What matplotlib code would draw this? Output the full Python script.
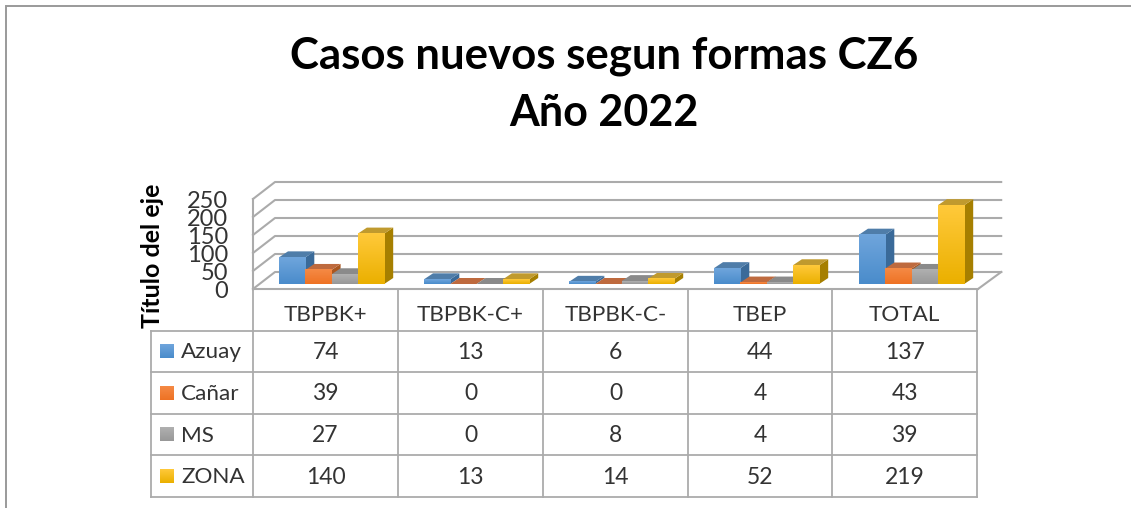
import matplotlib
matplotlib.use('Agg')
import matplotlib.pyplot as plt
from matplotlib.colors import LinearSegmentedColormap
import numpy as np

plt.rcParams['font.family'] = ['Lato', 'DejaVu Sans']

# datos de la tabla
categorias = ['TBPBK+', 'TBPBK-C+', 'TBPBK-C-', 'TBEP', 'TOTAL']
azuay = [74, 13, 6, 44, 137]
canar = [39, 0, 0, 4, 43]
ms = [27, 0, 8, 4, 39]
zona = [140, 13, 14, 52, 219]
series = ['Azuay', 'Cañar', 'MS', 'ZONA']
valores_eje = [0, 50, 100, 150, 200, 250]

colores = {
    'Azuay': ('#6FA5DC', '#4A8CCB', '#4F7DA9', '#3A6A99'),
    'Cañar': ('#F58A45', '#EE7224', '#BE6A3E', '#A9561F'),
    'MS': ('#B0B0B0', '#989898', '#8A8A8A', '#707070'),
    'ZONA': ('#FFC93A', '#EBB000', '#C09A2E', '#A67F00'),
}

W, H = 1131, 508
fig = plt.figure(figsize=(W / 100, H / 100), dpi=100)

# capa de pixeles: marco, titulo y tabla
px = fig.add_axes([0, 0, 1, 1])
px.set_xlim(0, W)
px.set_ylim(H, 0)
px.axis('off')

# capa de datos: x en categorias, y en casos
CAT = 145.0
ESC = 0.36
X0, Y0 = 253.0, 284.0
ax = fig.add_axes([0, 0, 1, 1])
ax.set_xlim(-X0 / CAT, (W - X0) / CAT)
ax.set_ylim(-(H - Y0) / ESC, Y0 / ESC)
ax.axis('off')
ax.patch.set_alpha(0)

GRIS = '#ABABAB'
fx = 22 / CAT  # fondo de la pared
fy = 17 / ESC
base = -5 / ESC  # borde delantero del piso

# marco de la imagen
px.plot([5.5, 5.5, W], [H, 5.5, 5.5], color='#9A9A9A', lw=1.4, solid_joinstyle='miter')

# paredes y lineas de la grilla
for v in valores_eje:
    ax.plot([0, fx, 5.16], [base + v, base + v + fy, base + v + fy], color=GRIS, lw=1.5, zorder=1)
ax.plot([0, 0], [base, base + 250], color=GRIS, lw=1.5, zorder=1)
ax.plot([5, 5.16], [base, base + fy], color=GRIS, lw=1.5, zorder=1)
ax.plot([0, 5], [base, base], color=GRIS, lw=1.5, zorder=1)

# barras 3d
ancho = 26.3 / CAT
prof_x = 9 / CAT
prof_y = 6 / ESC
inicio = 26 / CAT
grad = np.linspace(0, 1, 32).reshape(-1, 1)
for s, vals in enumerate([azuay, canar, ms, zona]):
    claro, oscuro, tapa, lado = colores[series[s]]
    cmap = LinearSegmentedColormap.from_list('b', [claro, oscuro])
    for c, v in enumerate(vals):
        x = c + inicio + s * ancho
        z = 3 + s
        ax.fill([x + ancho, x + ancho + prof_x, x + ancho + prof_x, x + ancho],
                [0, prof_y, v + prof_y, v], color=lado, lw=0, zorder=z)
        ax.fill([x, x + prof_x, x + ancho + prof_x, x + ancho],
                [v, v + prof_y, v + prof_y, v], color=tapa, lw=0, zorder=z)
        if v > 0:
            ax.imshow(grad, cmap=cmap, extent=(x, x + ancho, 0, v), aspect='auto', zorder=z)
ax.set_xlim(-X0 / CAT, (W - X0) / CAT)
ax.set_ylim(-(H - Y0) / ESC, Y0 / ESC)

# etiquetas del eje
for v in valores_eje:
    ax.text(-25 / CAT, base + v - 3 / ESC, str(v), ha='right', va='center', fontsize=17, color='#333333')
px.text(152, 256, 'Título del eje', rotation=90, ha='center', va='center',
        fontsize=18, fontweight='bold', color='black')

# titulo
px.text(604, 56, 'Casos nuevos segun formas CZ6', ha='center', va='center',
        fontsize=31.5, fontweight='bold', color='black')
px.text(604, 113, 'Año 2022', ha='center', va='center',
        fontsize=31, fontweight='bold', color='black')

# tabla de datos
xs = [253, 398, 543, 688, 832, 977]
ys = [289, 331, 372, 414, 455, 497]
for x in xs:
    px.plot([x, x], [ys[0], ys[-1]], color=GRIS, lw=1.3)
px.plot([151, 151], [ys[1], ys[-1]], color=GRIS, lw=1.3)
px.plot([253, 977], [ys[0], ys[0]], color=GRIS, lw=1.3)
for y in ys[1:]:
    px.plot([151, 977], [y, y], color=GRIS, lw=1.3)

for i, cat in enumerate(categorias):
    px.text((xs[i] + xs[i + 1]) / 2, (ys[0] + ys[1]) / 2 + 5, cat, ha='center', va='center',
            fontsize=16.2, color='#333333')
for s, vals in enumerate([azuay, canar, ms, zona]):
    yc = (ys[s + 1] + ys[s + 2]) / 2
    claro, oscuro = colores[series[s]][:2]
    cmap = LinearSegmentedColormap.from_list('l', [claro, oscuro])
    px.imshow(grad, cmap=cmap, extent=(160, 174, yc + 7, yc - 7), aspect='auto', origin='upper')
    px.text(181, yc + 1, series[s], ha='left', va='center', fontsize=16.2, color='#333333')
    for i, v in enumerate(vals):
        px.text((xs[i] + xs[i + 1]) / 2, yc + 1, str(v), ha='center', va='center',
                fontsize=16.5, color='#333333')
px.set_xlim(0, W)
px.set_ylim(H, 0)

fig.savefig('out.png', dpi=100)
